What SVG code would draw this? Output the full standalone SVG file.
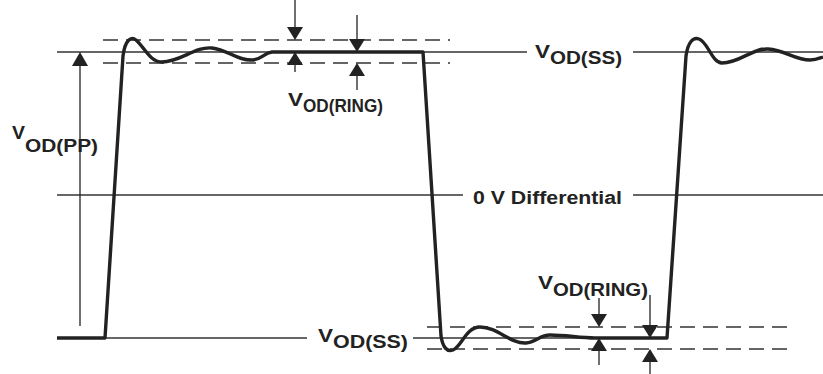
<svg xmlns="http://www.w3.org/2000/svg" width="823" height="374" viewBox="0 0 823 374">
<style>
.ref{stroke:#333;stroke-width:1.3;fill:none}
.dash{stroke:#333;stroke-width:1.3;fill:none;stroke-dasharray:15 8}
.wave{stroke:#222;stroke-width:3.4;fill:none;stroke-linejoin:round;stroke-linecap:butt}
.dim{stroke:#222;stroke-width:1.3;fill:none}
.head{fill:#222;stroke:none}
.t{font-family:"Liberation Sans",Arial,sans-serif;font-weight:bold;font-size:18px;fill:#222}
</style>
<rect width="823" height="374" fill="#fff"/>
<g id="reference-lines">
  <line class="ref" x1="57" y1="52" x2="527" y2="52"/>
  <line class="ref" x1="633" y1="52" x2="823" y2="52"/>
  <line class="ref" x1="57" y1="195" x2="463" y2="195"/>
  <line class="ref" x1="633" y1="195" x2="823" y2="195"/>
  <line class="ref" x1="105" y1="338" x2="307" y2="338"/>
  <line class="ref" x1="413" y1="338" x2="667" y2="338"/>
  <line class="dash" x1="103" y1="40" x2="450" y2="40"/>
  <line class="dash" x1="103" y1="63" x2="450" y2="63"/>
  <line class="dash" x1="427" y1="327" x2="787" y2="327"/>
  <line class="dash" x1="427" y1="349" x2="787" y2="349"/>
</g>
<g id="waveform">
  <path class="wave" d="M57,338 L105,338 L123,56 C125,40 131,36 136,40 C145,48 150,62 162,62 C180,62 196,46 212,48 C228,50 238,61 253,60 C262,59 264,53 272,52 L423,52 L441,336 C443,348 447,352 453,350 C462,346 466,327 480,327 C498,327 510,344 526,343 C536,342 540,335 550,335 C566,335 580,338 595,338 L667,338 L686,56 C688,42 693,37 699,39 C708,42 712,63 722,63 C740,63 752,48 768,49 C785,50 795,60 810,60 C816,60 820,58 823,57"/>
</g>
<g id="connectors">
  <g id="vodpp-arrow">
    <line class="dim" x1="80" y1="62" x2="80" y2="326"/>
    <polygon class="head" points="80,52 72,66 88,66"/>
  </g>
  <g id="ring-top-1">
    <line class="dim" x1="295" y1="0" x2="295" y2="30"/>
    <polygon class="head" points="295,40 287,27 303,27"/>
    <line class="dim" x1="295" y1="62" x2="295" y2="72"/>
    <polygon class="head" points="295,52 287,65 303,65"/>
  </g>
  <g id="ring-top-2">
    <line class="dim" x1="357" y1="15" x2="357" y2="42"/>
    <polygon class="head" points="357,52 349,39 365,39"/>
    <line class="dim" x1="357" y1="73" x2="357" y2="90"/>
    <polygon class="head" points="357,63 349,76 365,76"/>
  </g>
  <g id="ring-bot-1">
    <line class="dim" x1="599" y1="298" x2="599" y2="317"/>
    <polygon class="head" points="599,327 591,314 607,314"/>
    <line class="dim" x1="599" y1="348" x2="599" y2="365"/>
    <polygon class="head" points="599,338 591,351 607,351"/>
  </g>
  <g id="ring-bot-2">
    <line class="dim" x1="650" y1="295" x2="650" y2="328"/>
    <polygon class="head" points="650,338 642,325 658,325"/>
    <line class="dim" x1="650" y1="359" x2="650" y2="374"/>
    <polygon class="head" points="650,349 642,362 658,362"/>
  </g>
</g>
<g id="label-vodpp">
  <text class="t" x="12" y="139" textLength="13" lengthAdjust="spacingAndGlyphs">V</text>
  <text class="t" x="25" y="152" textLength="73" lengthAdjust="spacingAndGlyphs">OD(PP)</text>
</g>
<g id="label-ring-top">
  <text class="t" x="288" y="106" textLength="15" lengthAdjust="spacingAndGlyphs">V</text>
  <text class="t" x="303" y="112" textLength="80" lengthAdjust="spacingAndGlyphs">OD(RING)</text>
</g>
<g id="label-ss-top">
  <text class="t" x="535" y="58" textLength="15" lengthAdjust="spacingAndGlyphs">V</text>
  <text class="t" x="550" y="64" textLength="72" lengthAdjust="spacingAndGlyphs">OD(SS)</text>
</g>
<g id="label-zero">
  <text class="t" x="473" y="204" textLength="149" lengthAdjust="spacingAndGlyphs">0 V Differential</text>
</g>
<g id="label-ss-bot">
  <text class="t" x="318" y="342" textLength="15" lengthAdjust="spacingAndGlyphs">V</text>
  <text class="t" x="333" y="348" textLength="75" lengthAdjust="spacingAndGlyphs">OD(SS)</text>
</g>
<g id="label-ring-bot">
  <text class="t" x="538" y="289" textLength="15" lengthAdjust="spacingAndGlyphs">V</text>
  <text class="t" x="553" y="296" textLength="95" lengthAdjust="spacingAndGlyphs">OD(RING)</text>
</g>
</svg>
